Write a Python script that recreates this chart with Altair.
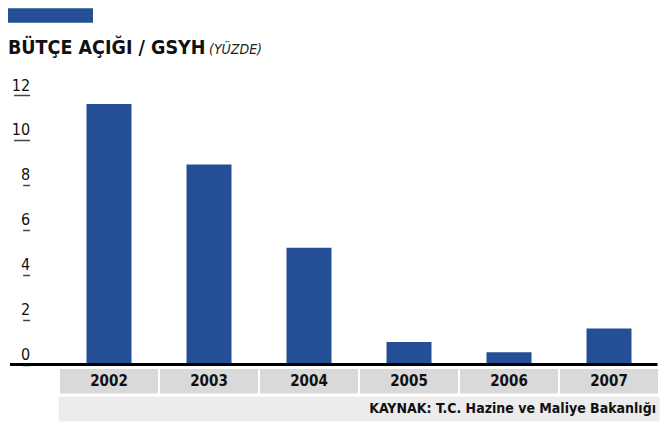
import altair as alt
import pandas as pd

years = ["2002", "2003", "2004", "2005", "2006", "2007"]
values = [11.6, 8.9, 5.2, 1.0, 0.55, 1.6]
y_ticks = [0, 2, 4, 6, 8, 10, 12]
title_main = "BÜTÇE AÇIĞI / GSYH"
title_unit = "(YÜZDE)"
source = "KAYNAK: T.C. Hazine ve Maliye Bakanlığı"

BLUE = "#244e96"
CELL = "#d9d9d9"
STRIP = "#ececec"
FONT = "DejaVu Sans Condensed"

W, H = 600, 269.5

df = pd.DataFrame({"year": years, "value": values})
xscale = alt.Scale(domain=years, paddingInner=0, paddingOuter=0)

base = alt.Chart(df).encode(x=alt.X("year:N", scale=xscale, axis=None))

big = "datum.value >= 10"
bars = base.mark_bar(width=alt.RelativeBandSize(0.45), color=BLUE).encode(
    y=alt.Y(
        "value:Q",
        scale=alt.Scale(domain=[0, 12], nice=False),
        axis=alt.Axis(
            values=y_ticks,
            offset=29.4,
            domain=False,
            grid=False,
            title=None,
            tickSize=alt.condition(big, alt.value(16), alt.value(7)),
            labelPadding=alt.condition(big, alt.value(-16), alt.value(-7)),
            tickColor="#444",
            tickWidth=1.5,
            labelAlign="right",
            labelBaseline="alphabetic",
            labelOffset=-5,
            labelFont=FONT,
            labelFontSize=16,
            labelColor="#111",
        ),
    )
)

baseline = alt.Chart(pd.DataFrame({"a": [0]})).mark_rule(color="black", strokeWidth=3).encode(
    x=alt.value(-49), x2=alt.value(W - 1.5), y=alt.value(H)
)

cells = base.mark_rect(fill=CELL, stroke="white", strokeWidth=2).encode(
    y=alt.value(H + 3.4), y2=alt.value(H + 30.1)
)
year_text = base.mark_text(font=FONT, fontSize=15, fontWeight="bold", color="#111", baseline="middle").encode(
    text="year:N", y=alt.value(H + 16.8)
)
strip = base.mark_rect(fill=STRIP, stroke=STRIP, strokeWidth=0.8).encode(
    y=alt.value(H + 32.6), y2=alt.value(H + 56.5)
)
src = alt.Chart(pd.DataFrame({"year": [years[-1]], "t": [source]})).mark_text(
    font=FONT, fontSize=14, fontWeight="bold", color="#111", align="right", baseline="middle", dx=-3
).encode(x=alt.X("year:N", scale=xscale, bandPosition=1, axis=None), text="t:N", y=alt.value(H + 44.7))

hdr = pd.DataFrame({"t": [title_main], "u": [title_unit]})
blue_rect = alt.Chart(hdr).mark_rect(color=BLUE).encode(
    x=alt.value(-51), x2=alt.value(34), y=alt.value(-86.8), y2=alt.value(-72.3)
)
t1 = alt.Chart(hdr).mark_text(font=FONT, fontSize=19.5, fontWeight="bold", color="#111", align="left", baseline="alphabetic").encode(
    x=alt.value(-51), y=alt.value(-40.7), text="t:N"
)
t2 = alt.Chart(hdr).mark_text(font=FONT, fontSize=14, fontStyle="italic", color="#222", align="left", baseline="alphabetic").encode(
    x=alt.value(150), y=alt.value(-40.7), text="u:N"
)

chart = alt.layer(cells, year_text, strip, src, bars, baseline, blue_rect, t1, t2).properties(
    width=W, height=H, padding=0
).configure_view(stroke=None)

chart.save("out.html", embed_options={"renderer": "svg", "actions": False})
